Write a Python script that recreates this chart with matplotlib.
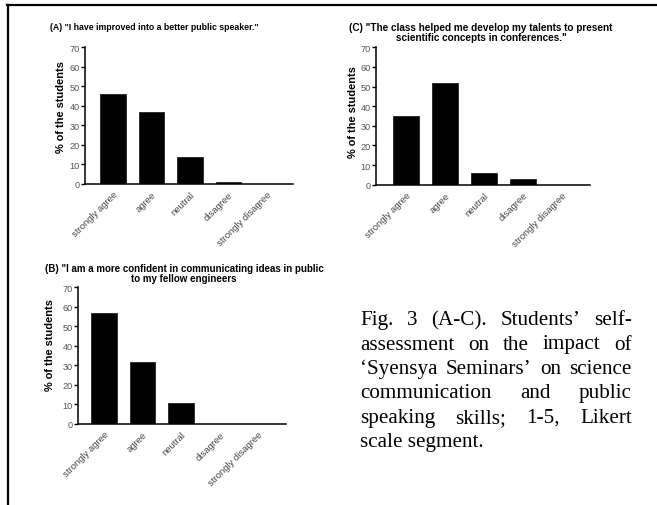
import matplotlib
matplotlib.use("Agg")
import matplotlib.pyplot as plt
from matplotlib.lines import Line2D

W, H = 657, 506

categories = ["strongly agree", "agree", "neutral", "disagree", "strongly disagree"]
values_a = [46, 37, 14, 1, 0]
values_b = [57, 32, 11, 0, 0]
values_c = [35, 52, 6, 3, 0]

title_a = "(A) \"I have improved into a better public speaker.\""
title_b = "(B) \"I am a more confident in communicating ideas in public\nto my fellow engineers"
title_c = "(C) \"The class helped me develop my talents to present\nscientific concepts in conferences.\""
ylabel = "% of the students"

caption_lines = [
    "Fig. 3 (A-C). Students\u2019 self-",
    "assessment on the impact of",
    "\u2018Syensya Seminars\u2019 on science",
    "communication and public",
    "speaking skills; 1-5, Likert",
    "scale segment.",
]

plt.rcParams['font.family'] = ['Liberation Sans', 'DejaVu Sans']

fig = plt.figure(figsize=(W / 100, H / 100), dpi=100)


def px_axes(x0, x1, y_top, y_bot):
    # pixel box -> figure fraction
    return fig.add_axes([x0 / W, 1 - y_bot / H, (x1 - x0) / W, (y_bot - y_top) / H])


def bar_panel(ax, vals, xlim, label_xy):
    ax.bar(range(len(vals)), vals, width=0.67, color="black", edgecolor="#222222", linewidth=0.6)
    ax.set_xlim(*xlim)
    ax.set_ylim(0, 70)
    ax.set_yticks(range(0, 71, 10))
    ax.set_xticks(range(len(categories)))
    ax.set_xticklabels(categories, rotation=45, ha="right", va="top",
                       rotation_mode="anchor", fontsize=6.8, color="#444444")
    ax.tick_params(axis="x", length=0, pad=4)
    ax.tick_params(axis="y", length=3, width=1, pad=1.0, labelsize=6.6, labelcolor="#555555")
    for s in ["top", "right"]:
        ax.spines[s].set_visible(False)
    for s in ["left", "bottom"]:
        ax.spines[s].set_linewidth(1.1)
    ax.set_ylabel(ylabel, fontsize=7.9, fontweight="bold")
    ax.yaxis.set_label_coords(*label_xy)


ax_a = px_axes(85, 293, 48, 185)
bar_panel(ax_a, values_a, (-0.73, 4.68), (-0.09, 0.57))
fig.text(154 / W, 1 - 27 / H, title_a, ha="center", va="center", fontsize=6.3, fontweight="bold")

ax_c = px_axes(376, 590, 48.3, 185.7)
bar_panel(ax_c, values_c, (-0.77, 4.72), (-0.085, 0.535))
fig.text(481 / W, 1 - 33 / H, title_c, ha="center", va="center", fontsize=7.2,
         fontweight="bold", linespacing=1.0)

ax_b = px_axes(78, 286, 288.3, 425)
bar_panel(ax_b, values_b, (-0.68, 4.73), (-0.11, 0.585))
fig.text(184 / W, 1 - 273.5 / H, title_b, ha="center", va="center", fontsize=7.0,
         fontweight="bold", linespacing=1.0)

# frame lines of the page
fig.add_artist(Line2D([7 / W, 1], [1 - 6 / H, 1 - 6 / H], transform=fig.transFigure, color="black", lw=1.6))
fig.add_artist(Line2D([8 / W, 8 / W], [0, 1 - 6 / H], transform=fig.transFigure, color="black", lw=1.6))

# justified caption
renderer = fig.canvas.get_renderer()
cap_left, cap_right = 360, 632
base0, step = 325, 24.5
for i, line in enumerate(caption_lines):
    y = 1 - (base0 + i * step) / H
    words = line.split(" ")
    if i == len(caption_lines) - 1:
        fig.text(cap_left / W, y, line, family="Liberation Serif", fontsize=15.2, va="baseline")
        continue
    arts = [fig.text(0, y, w, family="Liberation Serif", fontsize=15.2, va="baseline") for w in words]
    widths = [a.get_window_extent(renderer).width for a in arts]
    gap = (cap_right - cap_left - sum(widths)) / (len(words) - 1)
    x = cap_left
    for a, wd in zip(arts, widths):
        a.set_x(x / W)
        x += wd + gap

fig.savefig("out.png", dpi=100)
